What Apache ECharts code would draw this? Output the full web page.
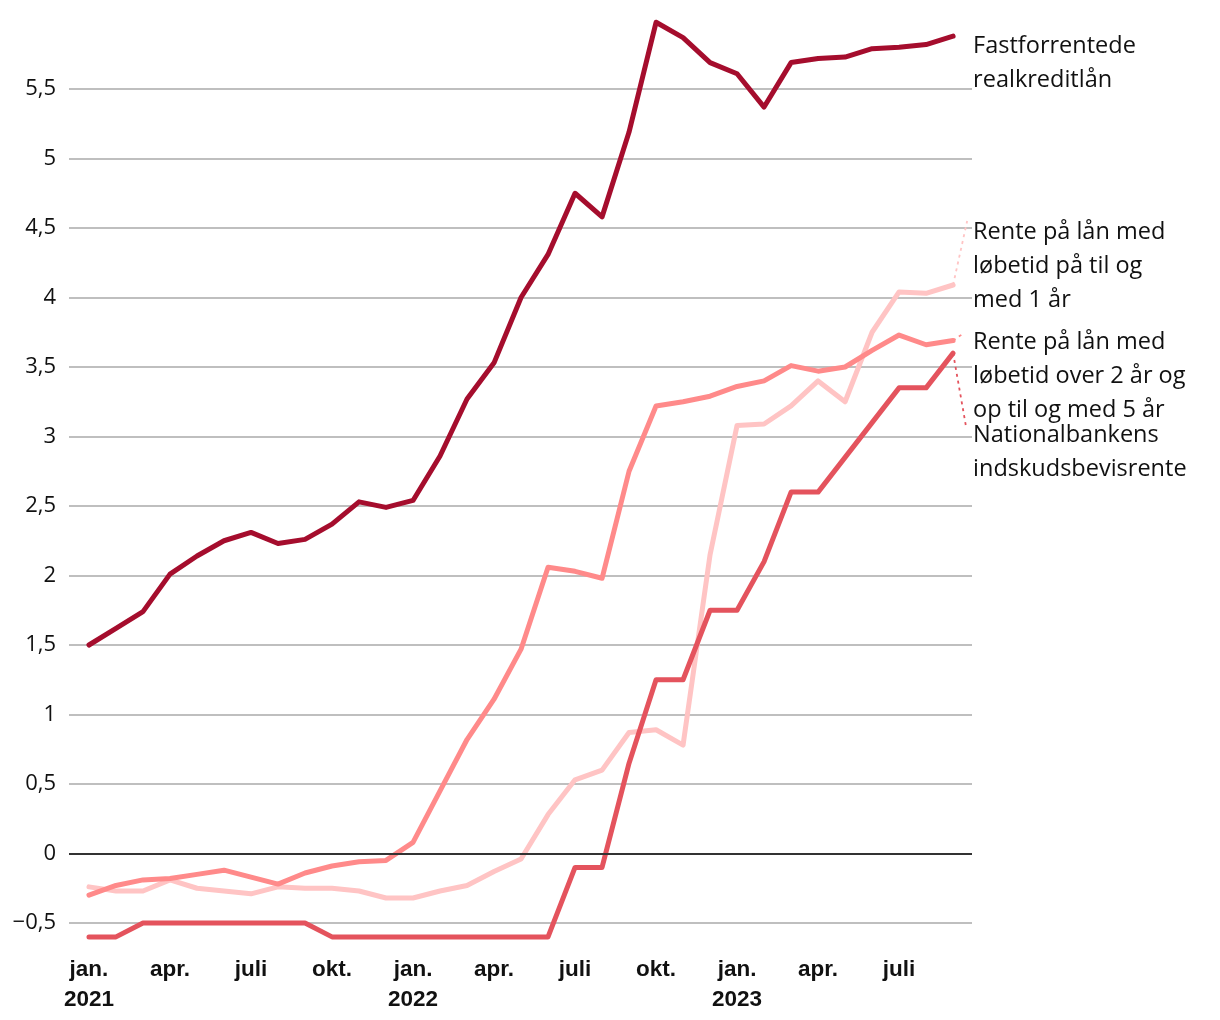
<!DOCTYPE html>
<html>
<head>
<meta charset="utf-8">
<script src="https://cdn.jsdelivr.net/npm/echarts@6/dist/echarts.min.js"></script>
<style>
html,body{margin:0;padding:0;background:#fff;}
#c{width:1220px;height:1020px;}
</style>
</head>
<body>
<div id="c"></div>
<script>
// Months Jan 2021 – Sep 2023 (index 0..32)
const months = ['jan. 2021','feb. 2021','mar. 2021','apr. 2021','maj 2021','jun. 2021','jul. 2021','aug. 2021','sep. 2021','okt. 2021','nov. 2021','dec. 2021',
  'jan. 2022','feb. 2022','mar. 2022','apr. 2022','maj 2022','jun. 2022','jul. 2022','aug. 2022','sep. 2022','okt. 2022','nov. 2022','dec. 2022',
  'jan. 2023','feb. 2023','mar. 2023','apr. 2023','maj 2023','jun. 2023','jul. 2023','aug. 2023','sep. 2023'];

const tickIndex = [0,3,6,9,12,15,18,21,24,27,30];
const tickLabels = ['jan.\n2021','apr.','juli','okt.','jan.\n2022','apr.','juli','okt.','jan.\n2023','apr.','juli'];

const realkredit = [1.50,1.62,1.74,2.01,2.14,2.25,2.31,2.23,2.26,2.37,2.53,2.49,
  2.54,2.86,3.27,3.53,4.00,4.31,4.75,4.58,5.19,5.98,5.87,5.69,
  5.61,5.37,5.69,5.72,5.73,5.79,5.80,5.82,5.88];

const rente1aar = [-0.24,-0.27,-0.27,-0.19,-0.25,-0.27,-0.29,-0.24,-0.25,-0.25,-0.27,-0.32,
  -0.32,-0.27,-0.23,-0.13,-0.04,0.28,0.53,0.60,0.87,0.89,0.78,2.15,
  3.08,3.09,3.22,3.40,3.25,3.75,4.04,4.03,4.09];

const rente2til5aar = [-0.30,-0.23,-0.19,-0.18,-0.15,-0.12,-0.17,-0.22,-0.14,-0.09,-0.06,-0.05,
  0.08,0.45,0.82,1.11,1.47,2.06,2.03,1.98,2.75,3.22,3.25,3.29,
  3.36,3.40,3.51,3.47,3.50,3.62,3.73,3.66,3.69];

const nationalbank = [-0.60,-0.60,-0.50,-0.50,-0.50,-0.50,-0.50,-0.50,-0.50,-0.60,-0.60,-0.60,
  -0.60,-0.60,-0.60,-0.60,-0.60,-0.60,-0.10,-0.10,0.65,1.25,1.25,1.75,
  1.75,2.10,2.60,2.60,2.85,3.10,3.35,3.35,3.60];

const names = ['Fastforrentede\nrealkreditlån',
  'Rente på lån med\nløbetid på til og\nmed 1 år',
  'Rente på lån med\nløbetid over 2 år og\nop til og med 5 år',
  'Nationalbankens\nindskudsbevisrente'];
const colors = ['#a50d2d','#ffc4c4','#ff8a8a','#e4535d'];
// label anchor offsets (end label) and leader end points in data units
const labelOffsets = [[20,27],[20,-19],[20,36],[20,99]];
const leaderEnds = [null,[32.52,4.55],[32.37,3.74],[32.48,3.07]];

const seriesData = [realkredit, rente1aar, rente2til5aar, nationalbank];
const order = [1,2,3,0]; // draw order

const series = order.map(i => {
  const d = seriesData[i].map((v,k)=>[k,v]);
  const last = d[d.length-1];
  const s = {
    name: names[i],
    type: 'line',
    data: d,
    clip: false,
    symbol: 'none',
    lineStyle: {color: colors[i], width: 5, join: 'round', cap: 'round'},
    itemStyle: {color: colors[i]},
    z: 3,
    endLabel: {
      show: true,
      formatter: names[i],
      color: '#111',
      fontFamily: 'Open Sans',
      fontSize: 23.5,
      lineHeight: 34,
      distance: 0,
      offset: labelOffsets[i]
    },
    emphasis: {disabled: true}
  };
  if (leaderEnds[i]) {
    s.markLine = {
      silent: true,
      symbol: 'none',
      label: {show: false},
      lineStyle: {color: colors[i], width: 1.8, type: [3,4]},
      data: [[{coord: last}, {coord: leaderEnds[i]}]]
    };
  }
  return s;
});

// zero line
series.push({
  type: 'line',
  data: [],
  markLine: {
    silent: true,
    symbol: 'none',
    label: {show: false},
    lineStyle: {color: '#333', width: 2, type: 'solid'},
    data: [{yAxis: 0}]
  },
  z: 2
});

const chart = echarts.init(document.getElementById('c'), null, {renderer: 'canvas'});
chart.setOption({
  animation: false,
  backgroundColor: '#fff',
  grid: {left: 69, right: 248, top: 89, bottom: 97},
  xAxis: {
    type: 'value',
    min: -0.74,
    max: 32.7,
    axisLine: {show: false},
    axisTick: {show: false},
    splitLine: {show: false},
    axisLabel: {
      customValues: tickIndex,
      formatter: v => tickLabels[tickIndex.indexOf(Math.round(v))] || '',
      fontFamily: 'Liberation Sans',
      fontWeight: 'bold',
      fontSize: 22.5,
      lineHeight: 30,
      color: '#111',
      margin: 32,
      verticalAlign: 'top'
    }
  },
  yAxis: {
    type: 'value',
    min: -0.5,
    max: 5.5,
    interval: 0.5,
    axisLine: {show: false},
    axisTick: {show: false},
    splitLine: {lineStyle: {color: '#bfbfbf', width: 2}},
    axisLabel: {
      formatter: v => (v < 0 ? '\u2212' : '') + String(Math.abs(v)).replace('.', ','),
      fontFamily: 'Open Sans',
      fontSize: 22,
      color: '#111',
      margin: 13
    }
  },
  series: series
});
</script>
</body>
</html>
